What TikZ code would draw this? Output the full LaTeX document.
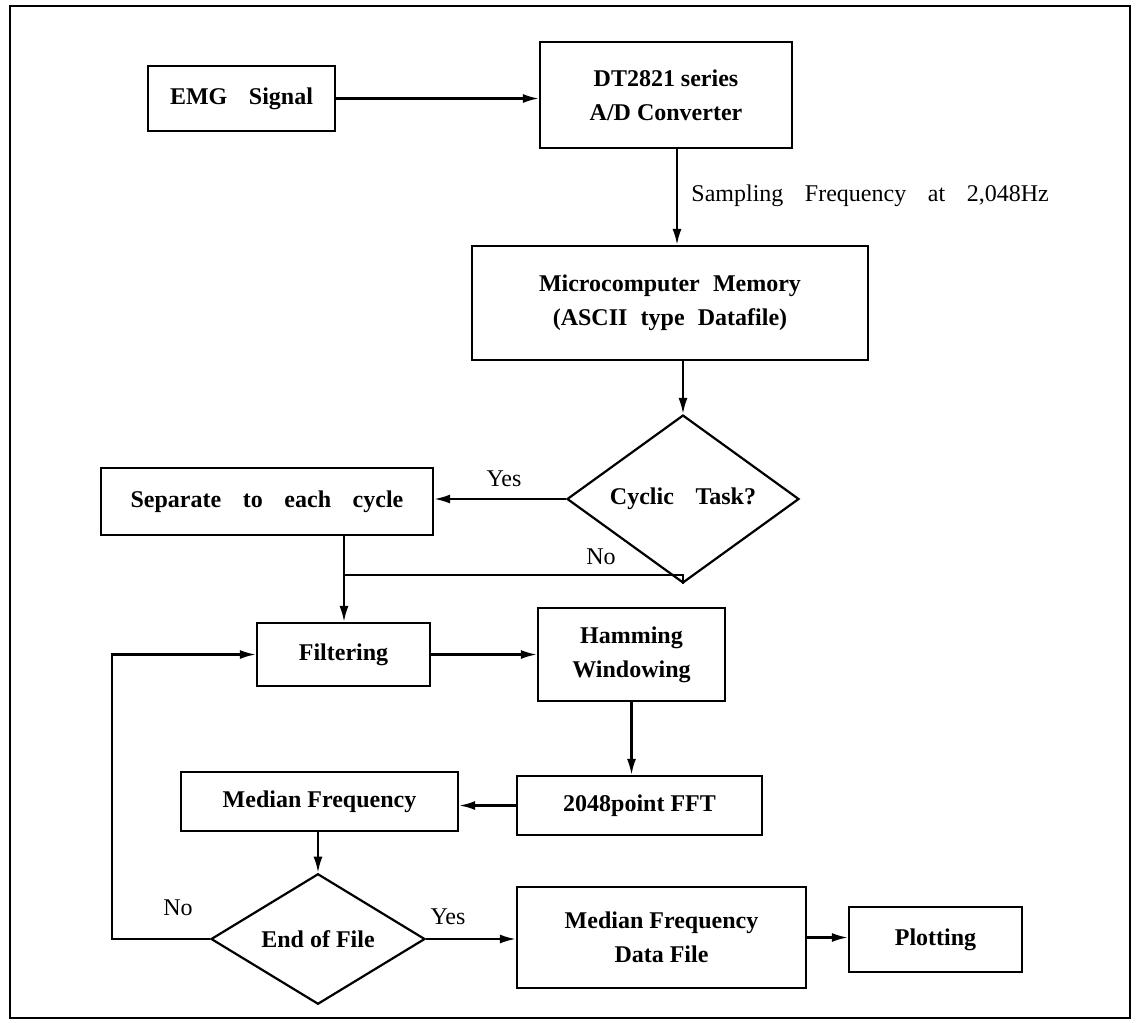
\documentclass[tikz,border=0pt]{standalone}
\usepackage{fontspec}
\setmainfont{Liberation Serif}
\usetikzlibrary{shapes.geometric,arrows.meta}
\begin{document}
\begin{tikzpicture}[x=0.5pt,y=-0.5pt,
  boxfont/.style={font=\bfseries\fontsize{12}{17}\selectfont},
  stepbox/.style={draw,line width=1.1pt,rectangle,inner sep=2pt,align=center,boxfont},
  decision/.style={draw,line width=1.1pt,diamond,inner sep=0pt,align=center,boxfont},
  wsp/.style={execute at begin node={\spaceskip=0.9em\relax}},
  msp/.style={execute at begin node={\spaceskip=0.55em\relax}},
  lbl/.style={font=\fontsize{12}{14}\selectfont,inner sep=0pt},
  conn/.style={line width=1.1pt},
  arr/.style={conn,-{Latex[length=8pt,width=4.5pt]}}
]
\useasboundingbox (0,0) rectangle (1136,1023);
\draw[line width=1.2pt] (10,6) rectangle (1130,1018);

\node[stepbox,wsp,minimum width=93.25pt,minimum height=32.5pt] (emg) at (241.5,98.5) {EMG Signal};
\node[stepbox,minimum width=126pt,minimum height=53pt] (dt) at (666,95) {DT2821 series\\A/D Converter};
\node[stepbox,msp,minimum width=198pt,minimum height=57pt] (micro) at (670,303) {Microcomputer Memory\\(ASCII type Datafile)};
\node[decision,wsp,minimum width=116pt,minimum height=60pt] (cyc) at (683,499) {Cyclic Task?};
\node[stepbox,wsp,minimum width=166pt,minimum height=33.5pt] (sep) at (267,501.5) {Separate to each cycle};
\node[stepbox,minimum width=86.5pt,minimum height=31.5pt] (filt) at (343.5,654.5) {Filtering};
\node[stepbox,minimum width=93.5pt,minimum height=46.5pt] (ham) at (631.5,654.5) {Hamming\\Windowing};
\node[stepbox,minimum width=122.5pt,minimum height=29.5pt] (fft) at (639.5,805.5) {2048point FFT};
\node[stepbox,minimum width=138.5pt,minimum height=29.5pt] (med) at (319.5,801.5) {Median Frequency};
\node[decision,minimum width=107pt,minimum height=46pt] (eof) at (318,939) {End of File};
\node[stepbox,minimum width=144.5pt,minimum height=50.5pt] (mfdf) at (661.5,937.5) {Median Frequency\\Data File};
\node[stepbox,minimum width=86.5pt,minimum height=32.5pt] (plot) at (935.5,939.5) {Plotting};

\coordinate (xa) at (677,0);
\coordinate (nj) at (344,575);
\coordinate (lx) at (112,0);

\draw[arr] (emg.east) -- (emg.east -| dt.west);
\draw[arr] (dt.south -| xa) -- (micro.north -| xa);
\node[lbl,wsp,anchor=west] (samp) at (691,196) {Sampling Frequency at 2,048Hz};
\draw[arr] (micro.south -| cyc.north) -- (cyc.north);
\draw[arr] (cyc.west) -- (cyc.west -| sep.east);
\node[lbl] (yes1) at (504,479) {Yes};
\draw[conn] (cyc.south) |- (nj);
\node[lbl] (no1) at (601,557) {No};
\draw[arr] (sep.south -| nj) -- (filt.north -| nj);
\draw[arr] (filt.east) -- (filt.east -| ham.west);
\draw[arr] (ham.south) -- (ham.south |- fft.north);
\draw[arr] (fft.west) -- (fft.west -| med.east);
\draw[arr] (med.south -| eof.north) -- (eof.north);
\draw[arr] (eof.west) -- (eof.west -| lx) |- (filt.west);
\node[lbl] (no2) at (178,908) {No};
\draw[arr] (eof.east) -- (eof.east -| mfdf.west);
\node[lbl] (yes2) at (448,917) {Yes};
\draw[arr] (mfdf.east) -- (mfdf.east -| plot.west);
\end{tikzpicture}
\end{document}
